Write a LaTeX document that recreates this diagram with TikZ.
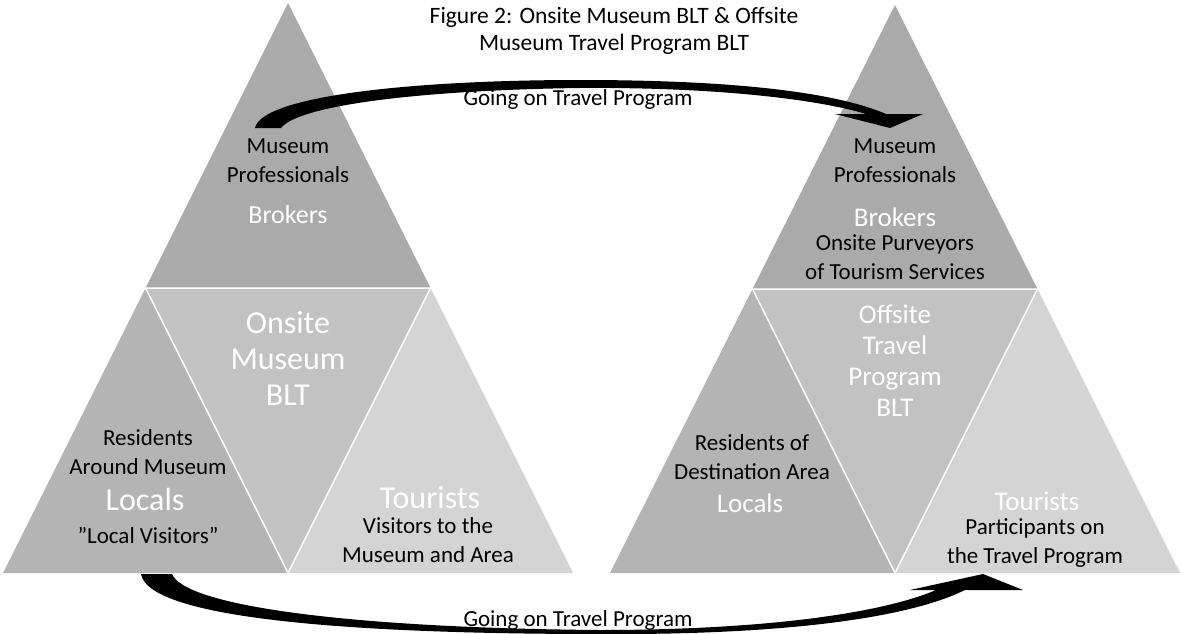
\documentclass[tikz,border=0pt]{standalone}
\usepackage{fontspec}
\setmainfont{Carlito}
\usepackage{xcolor}
\usepackage{tikz}

\definecolor{topgray}{HTML}{AAAAAA}
\definecolor{leftgray}{HTML}{B4B4B4}
\definecolor{midgray}{HTML}{C2C2C2}
\definecolor{rightgray}{HTML}{D4D4D4}

\tikzset{
  lbl/.style={font=\fontsize{23}{29}\selectfont, align=center, inner sep=0pt},
  bigw/.style={font=\fontsize{32}{36}\selectfont, text=white, align=center, inner sep=0pt},
  medw/.style={font=\fontsize{27}{31}\selectfont, text=white, align=center, inner sep=0pt},
  sep/.style={draw=white, line width=1.5pt, line join=miter},
}

\begin{document}
\begin{tikzpicture}[x=1pt, y=-1pt]
      \useasboundingbox (0,0) rectangle (1180,634);
      % left triangle
      \coordinate (LA) at (288,3);
      \coordinate (LB) at (3,573);
      \coordinate (LC) at (573,573);
      \coordinate (LAB) at (145.5,288);
      \coordinate (LAC) at (430.5,288);
      \coordinate (LBC) at (288,573);
      \fill[topgray] (LA) -- (LAB) -- (LAC) -- cycle;
      \fill[leftgray] (LAB) -- (LB) -- (LBC) -- cycle;
      \fill[midgray] (LAB) -- (LAC) -- (LBC) -- cycle;
      \fill[rightgray] (LAC) -- (LBC) -- (LC) -- cycle;
      \draw[sep] (LAB) -- (LAC) -- (LBC) -- cycle;
      % right triangle
      \coordinate (RA) at (895,5);
      \coordinate (RB) at (610,573);
      \coordinate (RC) at (1180,573);
      \coordinate (RAB) at (752.5,289);
      \coordinate (RAC) at (1037.5,289);
      \coordinate (RBC) at (895,573);
      \fill[topgray] (RA) -- (RAB) -- (RAC) -- cycle;
      \fill[leftgray] (RAB) -- (RB) -- (RBC) -- cycle;
      \fill[midgray] (RAB) -- (RAC) -- (RBC) -- cycle;
      \fill[rightgray] (RAC) -- (RBC) -- (RC) -- cycle;
      \draw[sep] (RAB) -- (RAC) -- (RBC) -- cycle;
      % curved arrows
      \fill (255,128) -- (281,128) .. controls (300,104) and (430,90) .. (580,88)
            .. controls (720,87) and (820,100) .. (866,114) -- (835,114) -- (890,128)
            -- (923,114) -- (886,114) .. controls (830,90) and (720,80) .. (580,80)
            .. controls (420,80) and (262,95) .. (255,128) -- cycle;
      \fill (141,574) -- (172,574) .. controls (185,606) and (350,628) .. (600,630)
            .. controls (760,630) and (880,614) .. (936,590) -- (910,590) -- (983,574)
            -- (1023,590) -- (965,590) .. controls (900,622) and (760,635) .. (600,634)
            .. controls (330,634) and (148,616) .. (141,574) -- cycle;
      % texts
      \node[lbl, font=\fontsize{23.5}{27}\selectfont] (title) at (614,31) {Figure 2: Onsite Museum BLT \& Offsite\\Museum Travel Program BLT};
      \node[lbl] (gotop) at (578,99) {Going on Travel Program};
      \node[lbl] (gobot) at (578,620) {Going on Travel Program};
      \node[lbl] (Lprof) at (288,161) {Museum\\Professionals};
      \node[medw, font=\fontsize{26}{30}\selectfont] (Lbrok) at (288,215) {Brokers};
      \node[bigw] (Lblt) at (288,358) {Onsite\\Museum\\BLT};
      \node[lbl] (Lres) at (148,452) {Residents\\Around Museum};
      \node[bigw] (Lloc) at (145,500) {Locals};
      \node[lbl] (Lvis) at (148,535) {”Local Visitors”};
      \node[bigw] (Ltour) at (430,498) {Tourists};
      \node[lbl] (Larea) at (428,540) {Visitors to the\\Museum and Area};
      \node[lbl] (Rprof) at (895,161) {Museum\\Professionals};
      \node[medw] (Rbrok) at (895,217) {Brokers};
      \node[lbl] (Rpurv) at (895,257) {Onsite Purveyors\\of Tourism Services};
      \node[medw] (Rblt) at (895,361) {Offsite\\Travel\\Program\\BLT};
      \node[lbl] (Rres) at (752,457) {Residents of\\Destination Area};
      \node[medw] (Rloc) at (750,503) {Locals};
      \node[medw] (Rtour) at (1037,501) {Tourists};
      \node[lbl] (Rpart) at (1035,543) {Participants on\\the Travel Program};
    \end{tikzpicture}
\end{document}
